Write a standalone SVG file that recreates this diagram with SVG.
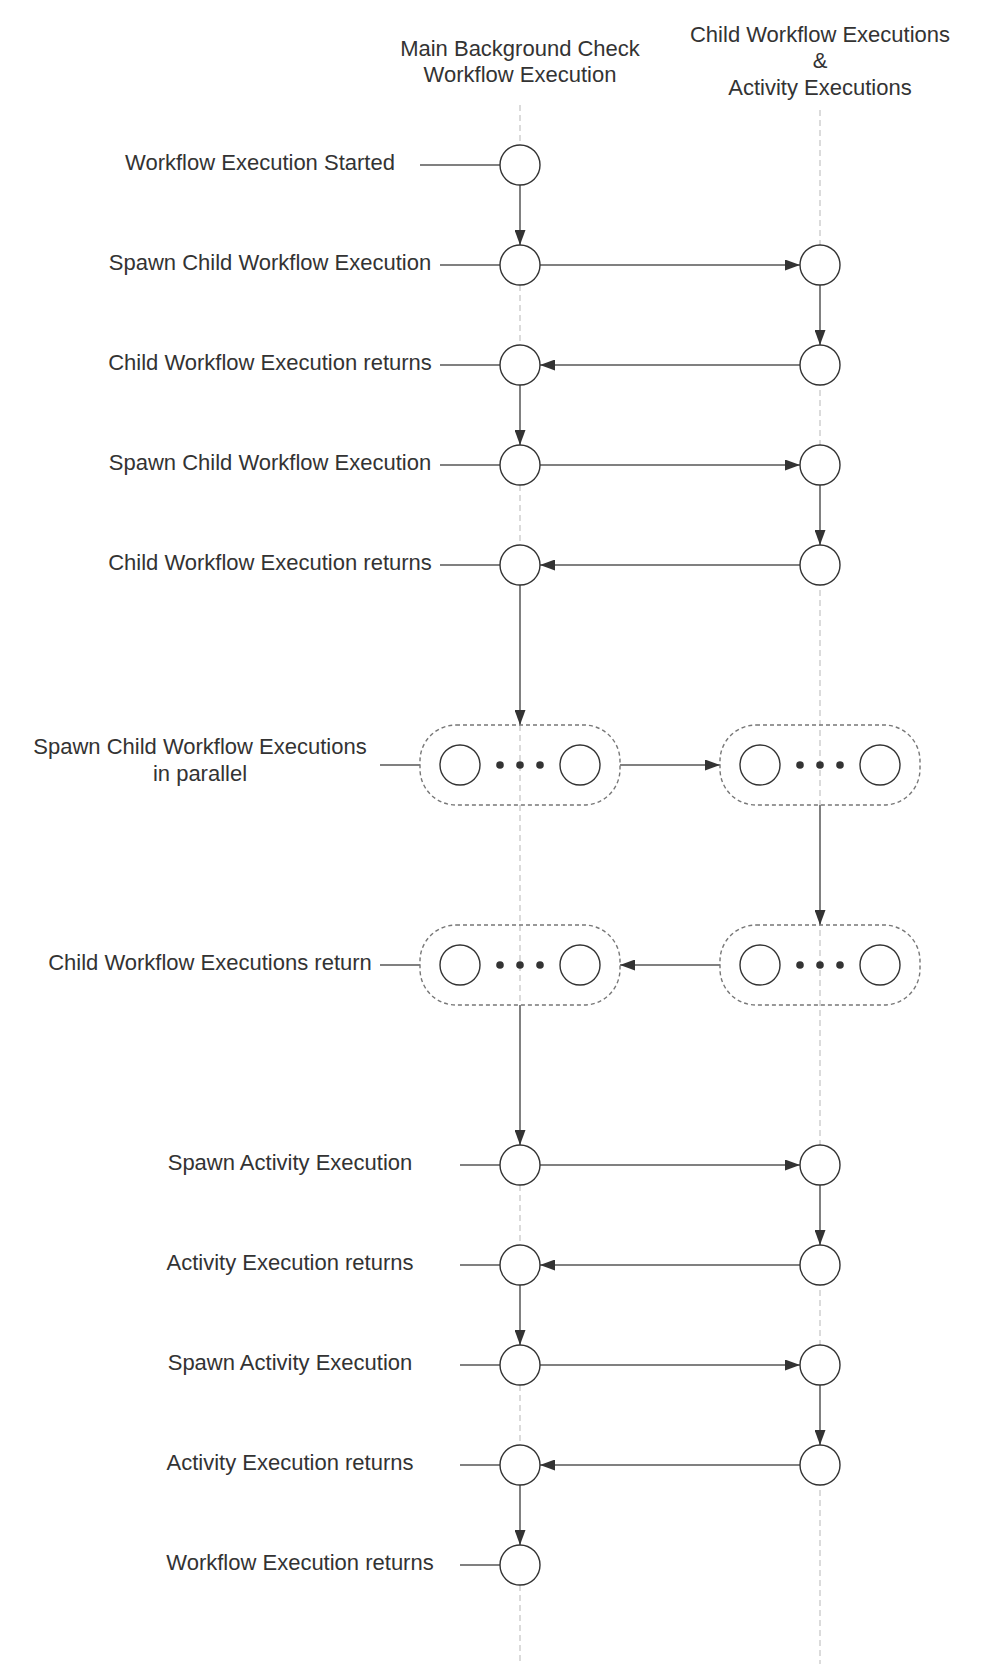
<svg xmlns="http://www.w3.org/2000/svg" width="1000" height="1671" viewBox="0 0 1000 1671">
<style>
.t{font-family:"Liberation Sans",Arial,sans-serif;font-size:22px;fill:#333;text-anchor:middle}
.life{stroke:#cfcfcf;stroke-width:1.5;stroke-dasharray:6 4;fill:none}
.c{stroke:#808080;stroke-width:2;fill:none}
.a{stroke:#808080;stroke-width:2;fill:none;marker-end:url(#ah)}
.n{fill:#fff;stroke:#333;stroke-width:1.4}
.g{fill:none;stroke:#777;stroke-width:1.4;stroke-dasharray:4 3}
.d{fill:#333}
</style>
<defs>
<marker id="ah" markerUnits="userSpaceOnUse" markerWidth="15" markerHeight="11" refX="15" refY="5.5" orient="auto">
<path d="M0,0 L15,5.5 L0,11 z" fill="#333"/>
</marker>
</defs>
<rect width="1000" height="1671" fill="#fff"/>
<g id="headers">
<text class="t" x="520" y="56">Main Background Check</text>
<text class="t" x="520" y="82">Workflow Execution</text>
<text class="t" x="820" y="42">Child Workflow Executions</text>
<text class="t" x="820" y="68">&amp;</text>
<text class="t" x="820" y="95">Activity Executions</text>
</g>
<g id="lifelines">
<line class="life" x1="520" y1="105" x2="520" y2="1664"/>
<line class="life" x1="820" y1="110" x2="820" y2="1664"/>
</g>
<g id="labels">
<text class="t" x="260" y="170">Workflow Execution Started</text>
<text class="t" x="270" y="270">Spawn Child Workflow Execution</text>
<text class="t" x="270" y="370">Child Workflow Execution returns</text>
<text class="t" x="270" y="470">Spawn Child Workflow Execution</text>
<text class="t" x="270" y="570">Child Workflow Execution returns</text>
<text class="t" x="200" y="754">Spawn Child Workflow Executions</text>
<text class="t" x="200" y="781">in parallel</text>
<text class="t" x="210" y="970">Child Workflow Executions return</text>
<text class="t" x="290" y="1170">Spawn Activity Execution</text>
<text class="t" x="290" y="1270">Activity Execution returns</text>
<text class="t" x="290" y="1370">Spawn Activity Execution</text>
<text class="t" x="290" y="1470">Activity Execution returns</text>
<text class="t" x="300" y="1570">Workflow Execution returns</text>
</g>
<g id="connectors">
<line class="c" x1="420" y1="165" x2="500" y2="165"/>
<line class="c" x1="440" y1="265" x2="500" y2="265"/>
<line class="c" x1="440" y1="365" x2="500" y2="365"/>
<line class="c" x1="440" y1="465" x2="500" y2="465"/>
<line class="c" x1="440" y1="565" x2="500" y2="565"/>
<line class="c" x1="380" y1="765" x2="420" y2="765"/>
<line class="c" x1="380" y1="965" x2="420" y2="965"/>
<line class="c" x1="460" y1="1165" x2="500" y2="1165"/>
<line class="c" x1="460" y1="1265" x2="500" y2="1265"/>
<line class="c" x1="460" y1="1365" x2="500" y2="1365"/>
<line class="c" x1="460" y1="1465" x2="500" y2="1465"/>
<line class="c" x1="460" y1="1565" x2="500" y2="1565"/>
<line class="a" x1="520" y1="185" x2="520" y2="245"/>
<line class="a" x1="540" y1="265" x2="800" y2="265"/>
<line class="a" x1="820" y1="285" x2="820" y2="345"/>
<line class="a" x1="800" y1="365" x2="540" y2="365"/>
<line class="a" x1="520" y1="385" x2="520" y2="445"/>
<line class="a" x1="540" y1="465" x2="800" y2="465"/>
<line class="a" x1="820" y1="485" x2="820" y2="545"/>
<line class="a" x1="800" y1="565" x2="540" y2="565"/>
<line class="a" x1="520" y1="585" x2="520" y2="725"/>
<line class="a" x1="620" y1="765" x2="720" y2="765"/>
<line class="a" x1="820" y1="805" x2="820" y2="925"/>
<line class="a" x1="720" y1="965" x2="620" y2="965"/>
<line class="a" x1="520" y1="1005" x2="520" y2="1145"/>
<line class="a" x1="540" y1="1165" x2="800" y2="1165"/>
<line class="a" x1="820" y1="1185" x2="820" y2="1245"/>
<line class="a" x1="800" y1="1265" x2="540" y2="1265"/>
<line class="a" x1="520" y1="1285" x2="520" y2="1345"/>
<line class="a" x1="540" y1="1365" x2="800" y2="1365"/>
<line class="a" x1="820" y1="1385" x2="820" y2="1445"/>
<line class="a" x1="800" y1="1465" x2="540" y2="1465"/>
<line class="a" x1="520" y1="1485" x2="520" y2="1545"/>
</g>
<g id="n-start"><circle class="n" cx="520" cy="165" r="20"/></g>
<g id="n-spawn1"><circle class="n" cx="520" cy="265" r="20"/></g>
<g id="c-child1"><circle class="n" cx="820" cy="265" r="20"/></g>
<g id="c-child1-ret"><circle class="n" cx="820" cy="365" r="20"/></g>
<g id="n-ret1"><circle class="n" cx="520" cy="365" r="20"/></g>
<g id="n-spawn2"><circle class="n" cx="520" cy="465" r="20"/></g>
<g id="c-child2"><circle class="n" cx="820" cy="465" r="20"/></g>
<g id="c-child2-ret"><circle class="n" cx="820" cy="565" r="20"/></g>
<g id="n-ret2"><circle class="n" cx="520" cy="565" r="20"/></g>
<g id="n-par-spawn">
<rect class="g" x="420" y="725" width="200" height="80" rx="36" ry="36"/>
<circle class="n" cx="460" cy="765" r="20"/><circle class="n" cx="580" cy="765" r="20"/>
<circle class="d" cx="500" cy="765" r="3.8"/><circle class="d" cx="520" cy="765" r="3.8"/><circle class="d" cx="540" cy="765" r="3.8"/>
</g>
<g id="c-par-children">
<rect class="g" x="720" y="725" width="200" height="80" rx="36" ry="36"/>
<circle class="n" cx="760" cy="765" r="20"/><circle class="n" cx="880" cy="765" r="20"/>
<circle class="d" cx="800" cy="765" r="3.8"/><circle class="d" cx="820" cy="765" r="3.8"/><circle class="d" cx="840" cy="765" r="3.8"/>
</g>
<g id="c-par-return">
<rect class="g" x="720" y="925" width="200" height="80" rx="36" ry="36"/>
<circle class="n" cx="760" cy="965" r="20"/><circle class="n" cx="880" cy="965" r="20"/>
<circle class="d" cx="800" cy="965" r="3.8"/><circle class="d" cx="820" cy="965" r="3.8"/><circle class="d" cx="840" cy="965" r="3.8"/>
</g>
<g id="n-par-return">
<rect class="g" x="420" y="925" width="200" height="80" rx="36" ry="36"/>
<circle class="n" cx="460" cy="965" r="20"/><circle class="n" cx="580" cy="965" r="20"/>
<circle class="d" cx="500" cy="965" r="3.8"/><circle class="d" cx="520" cy="965" r="3.8"/><circle class="d" cx="540" cy="965" r="3.8"/>
</g>
<g id="n-act1"><circle class="n" cx="520" cy="1165" r="20"/></g>
<g id="a-act1"><circle class="n" cx="820" cy="1165" r="20"/></g>
<g id="a-act1-ret"><circle class="n" cx="820" cy="1265" r="20"/></g>
<g id="n-act1-ret"><circle class="n" cx="520" cy="1265" r="20"/></g>
<g id="n-act2"><circle class="n" cx="520" cy="1365" r="20"/></g>
<g id="a-act2"><circle class="n" cx="820" cy="1365" r="20"/></g>
<g id="a-act2-ret"><circle class="n" cx="820" cy="1465" r="20"/></g>
<g id="n-act2-ret"><circle class="n" cx="520" cy="1465" r="20"/></g>
<g id="n-end"><circle class="n" cx="520" cy="1565" r="20"/></g>
</svg>
